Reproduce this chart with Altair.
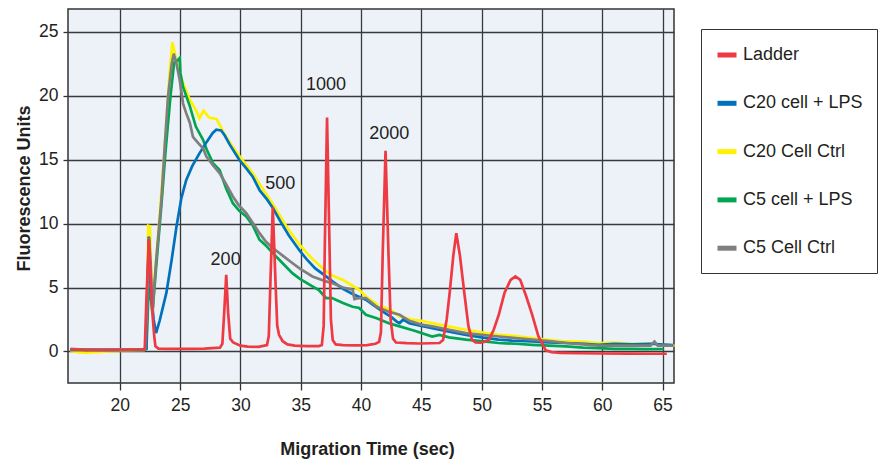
import altair as alt
import pandas as pd

series_names = ["Ladder", "C20 cell + LPS", "C20 Cell Ctrl", "C5 cell + LPS", "C5 Cell Ctrl"]
series_colors = ["#EE3A43", "#0072BC", "#FFF200", "#00A651", "#7F7F80"]
draw_order = ["C20 Cell Ctrl", "C5 cell + LPS", "C20 cell + LPS", "C5 Cell Ctrl", "Ladder"]

ladder_x = [15.9, 17.0, 18.0, 19.0, 20.0, 21.0, 22.0, 22.07, 22.2, 22.4, 22.55, 22.7, 22.85, 22.95, 23.2,
            24.0, 25.0, 26.0, 27.0, 28.0, 28.3, 28.5, 28.65, 28.82, 28.98, 29.15, 29.4, 30.0, 30.6, 31.5,
            32.2, 32.35, 32.49, 32.68, 32.9, 33.05, 33.2, 33.5, 33.9, 34.5, 35.5, 36.5, 36.75, 36.9, 37.0,
            37.18, 37.38, 37.5, 37.65, 37.9, 38.5, 39.5, 40.5, 41.2, 41.5, 41.65, 41.8, 42.03, 42.27, 42.45,
            42.65, 42.9, 43.8, 44.8, 45.8, 46.5, 46.8, 47.1, 47.35, 47.65, 47.9, 48.2, 48.56, 48.9, 49.2,
            49.5, 49.9, 50.2, 50.6, 51.0, 51.43, 51.9, 52.4, 52.8, 53.2, 53.7, 54.18, 54.7, 55.3, 55.8,
            56.5, 58.0, 60.0, 62.0, 64.0, 65.35]
ladder_y = [0.15, 0.12, 0.12, 0.12, 0.13, 0.14, 0.15, 0.3, 4.0, 8.8, 6.0, 3.0, 1.2, 0.4, 0.22,
            0.2, 0.2, 0.2, 0.22, 0.28, 0.3, 0.6, 3.0, 6.0, 3.0, 1.0, 0.7, 0.45, 0.38, 0.36,
            0.5, 1.2, 5.6, 11.3, 5.6, 2.0, 1.3, 0.8, 0.55, 0.45, 0.42, 0.42, 0.5, 2.0, 8.5,
            18.3, 8.5, 2.5, 0.9, 0.55, 0.5, 0.48, 0.5, 0.6, 0.75, 1.5, 7.8, 15.7, 7.8, 2.5,
            1.0, 0.7, 0.65, 0.62, 0.64, 0.66, 0.9, 2.5, 4.6, 7.5, 9.26, 7.5, 4.6, 2.0, 0.9,
            0.7, 0.68, 0.75, 0.9, 1.7, 2.9, 4.6, 5.6, 5.87, 5.6, 4.3, 2.9, 1.2, 0.1, -0.05,
            -0.12, -0.14, -0.16, -0.17, -0.18, -0.18]

c20_lps_x = [15.9, 18.0, 20.0, 22.0, 22.2, 22.3, 22.4, 22.55, 22.8, 23.0, 23.3, 23.86, 24.3, 24.7, 25.1,
             25.5, 26.0, 26.6, 27.2, 27.7, 28.0, 28.4, 28.7, 29.1, 29.9, 30.5, 31.0, 31.6, 32.2, 32.7,
             33.3, 34.0, 34.9, 35.5, 36.2, 37.1, 37.6, 38.5, 39.3, 40.0, 40.4, 41.2, 42.0, 42.5, 43.0,
             43.2, 43.5, 44.0, 45.0, 45.9, 47.0, 48.7, 50.0, 51.4, 52.5, 54.2, 55.5, 57.0, 58.5, 59.7,
             61.0, 62.5, 64.0, 65.9]
c20_lps_y = [0.15, 0.12, 0.12, 0.13, 0.2, 5.0, 9.0, 5.0, 2.5, 1.44, 2.4, 4.6, 7.2, 9.8, 12.0,
             13.4, 14.5, 15.5, 16.4, 17.1, 17.35, 17.3, 16.9, 16.2, 15.0, 14.3, 13.7, 12.6, 11.9, 11.2,
             10.2, 9.1, 7.9, 7.2, 6.5, 5.87, 5.5, 4.9, 4.5, 4.2, 4.05, 3.5, 3.0, 2.7, 2.3,
             2.22, 2.5, 2.2, 2.0, 1.83, 1.6, 1.3, 1.1, 0.92, 0.85, 0.78, 0.7, 0.66, 0.6, 0.52,
             0.6, 0.55, 0.6, 0.5]

c20_ctrl_x = [15.9, 16.5, 17.2, 18.0, 19.0, 20.0, 21.0, 22.0, 22.2, 22.3, 22.35, 22.5, 22.6, 22.7, 23.0,
              23.45, 23.8, 24.1, 24.36, 24.68, 25.24, 25.8, 26.3, 26.6, 26.95, 27.4, 28.0, 28.3, 28.8, 29.9,
              31.0, 31.8, 32.7, 33.8, 34.9, 35.9, 37.1, 37.6, 38.5, 39.2, 39.85, 40.4, 41.3, 41.55, 41.8,
              42.5, 43.2, 44.2, 45.0, 45.9, 47.0, 48.7, 50.0, 51.4, 52.8, 54.2, 55.5, 57.0, 58.5, 59.7,
              61.0, 62.5, 64.0, 66.0]
c20_ctrl_y = [0.05, -0.05, -0.1, -0.05, 0.0, 0.05, 0.08, 0.1, 0.2, 6.0, 9.84, 9.8, 6.0, 3.5, 7.0,
              12.5, 17.0, 21.5, 24.2, 22.8, 21.0, 19.7, 18.9, 18.26, 18.85, 18.3, 18.2, 17.7, 16.8, 15.3,
              13.96, 12.8, 11.5, 9.8, 8.35, 7.3, 6.26, 5.95, 5.6, 5.2, 4.83, 4.3, 3.7, 3.25, 3.5,
              3.2, 2.74, 2.5, 2.4, 2.22, 2.0, 1.7, 1.5, 1.3, 1.2, 1.05, 0.9, 0.78, 0.75, 0.66,
              0.7, 0.6, 0.62, 0.45]

c5_lps_x = [15.9, 18.0, 20.0, 22.0, 22.2, 22.35, 22.5, 22.7, 23.0, 23.45, 23.8, 24.2, 24.5, 24.8, 24.96,
            25.02, 25.24, 25.8, 26.3, 26.9, 27.2, 27.72, 28.27, 28.8, 29.37, 29.9, 30.48, 31.0, 31.58, 32.1,
            32.68, 33.5, 34.3, 34.9, 35.97, 36.5, 37.1, 37.6, 38.5, 39.3, 39.85, 40.4, 41.3, 42.3, 43.2,
            44.5, 45.9, 46.5, 47.3, 48.7, 50.0, 51.4, 52.8, 54.2, 55.6, 57.0, 58.4, 59.7, 61.0, 62.5,
            63.5, 65.1]
c5_lps_y = [0.1, 0.1, 0.1, 0.12, 0.2, 4.0, 5.0, 3.0, 6.5, 11.5, 15.8, 20.0, 22.6, 22.8, 22.96,
            21.8, 20.7, 19.2, 17.6, 16.56, 15.8, 14.74, 14.2, 12.8, 11.6, 11.0, 10.56, 9.9, 8.74, 8.3,
            7.7, 6.9, 6.13, 5.7, 5.09, 4.8, 4.18, 4.18, 3.79, 3.5, 3.4, 2.87, 2.6, 2.2, 1.96,
            1.6, 1.17, 1.3, 1.1, 0.92, 0.8, 0.66, 0.6, 0.52, 0.45, 0.39, 0.3, 0.26, 0.2, 0.2,
            0.18, 0.19]

c5_ctrl_x = [15.9, 17.0, 19.0, 21.0, 22.1, 22.25, 22.42, 22.55, 22.7, 23.0, 23.45, 23.7, 24.0, 24.3, 24.47,
             24.7, 24.96, 25.24, 25.5, 25.8, 26.06, 26.5, 26.9, 27.17, 27.7, 28.27, 28.8, 29.37, 29.9, 30.48,
             31.0, 31.58, 32.1, 32.68, 33.5, 34.3, 34.9, 35.97, 37.1, 37.6, 38.5, 39.3, 39.45, 39.85, 40.4,
             41.3, 42.3, 43.2, 44.0, 45.0, 45.9, 47.3, 48.7, 50.0, 51.4, 52.8, 54.2, 55.6, 57.0, 58.4,
             59.7, 61.0, 62.5, 64.0, 64.33, 64.6, 65.9]
c5_ctrl_y = [0.2, 0.15, 0.13, 0.14, 0.15, 3.0, 8.9, 7.0, 3.0, 7.0, 11.9, 15.8, 20.0, 22.5, 23.3,
             22.5, 21.26, 19.4, 18.65, 17.9, 16.8, 16.3, 15.9, 15.26, 14.6, 13.96, 13.1, 12.13, 11.4, 10.83,
             10.1, 9.26, 8.6, 8.09, 7.5, 6.92, 6.5, 5.87, 5.48, 5.35, 5.0, 4.83, 4.1, 4.18, 4.18,
             3.5, 3.1, 2.87, 2.4, 2.1, 1.96, 1.7, 1.44, 1.3, 1.17, 1.05, 0.92, 0.8, 0.66, 0.55,
             0.45, 0.45, 0.45, 0.45, 0.78, 0.45, 0.45]

peak_labels = ["200", "500", "1000", "2000"]
peak_label_x = [28.77, 33.3, 37.1, 42.33]
peak_label_y = [7.18, 13.08, 20.83, 16.98]

x_ticks = [20, 25, 30, 35, 40, 45, 50, 55, 60, 65]
y_ticks = [0, 5, 10, 15, 20, 25]

series_data = {
    "Ladder": (ladder_x, ladder_y),
    "C20 cell + LPS": (c20_lps_x, c20_lps_y),
    "C20 Cell Ctrl": (c20_ctrl_x, c20_ctrl_y),
    "C5 cell + LPS": (c5_lps_x, c5_lps_y),
    "C5 Cell Ctrl": (c5_ctrl_x, c5_ctrl_y),
}
frames = []
for name, (xs, ys) in series_data.items():
    assert len(xs) == len(ys), name
    frames.append(pd.DataFrame({"time": xs, "fu": ys, "series": name}))
df = pd.concat(frames, ignore_index=True)
labels_df = pd.DataFrame({"time": peak_label_x, "fu": peak_label_y, "label": peak_labels})

FONT = "Liberation Sans"

x_enc = alt.X("time:Q", scale=alt.Scale(domain=[15.7, 65.95], nice=False, zero=False),
              axis=alt.Axis(values=x_ticks, title="Migration Time (sec)", titleX=299,
                            tickSize=7, labelPadding=6, titlePadding=27))
y_enc = alt.Y("fu:Q", scale=alt.Scale(domain=[-2.47, 26.8], nice=False, zero=False),
              axis=alt.Axis(values=y_ticks, title="Fluorescence Units", titleY=179,
                            tickSize=5, labelPadding=5, titlePadding=5))
color_enc = alt.Color("series:N",
                      scale=alt.Scale(domain=series_names, range=series_colors),
                      legend=alt.Legend(title=None, orient="none", legendX=633, legendY=20,
                                        direction="vertical",
                                        fillColor="white", strokeColor="#333333",
                                        padding=14, rowPadding=26.3,
                                        symbolType="stroke", symbolStrokeWidth=5, symbolSize=361,
                                        labelFontSize=18, labelFont=FONT, labelColor="#231F20",
                                        labelOffset=4))

layers = []
for name in draw_order:
    layers.append(
        alt.Chart(df).transform_filter(alt.datum.series == name)
        .mark_line(strokeWidth=2.7)
        .encode(x=x_enc, y=y_enc, color=color_enc)
    )

text_layer = alt.Chart(labels_df).mark_text(fontSize=18, font=FONT, color="#231F20",
                                            align="center", baseline="middle").encode(
    x="time:Q", y="fu:Q", text="label:N")

chart = alt.layer(*layers, text_layer).properties(
    width=606, height=374,
    autosize=alt.AutoSizeParams(type="none"),
    padding={"left": 60, "top": 1, "right": 204, "bottom": 77},
    background="white",
).configure_view(
    fill="#EDF2F9", stroke="#333333", strokeWidth=1.5
).configure_axis(
    grid=True, gridColor="#3A3A3A", gridWidth=1.3, domain=False,
    tickColor="#333333", tickWidth=1.3,
    labelFont=FONT, labelFontSize=17.5, labelColor="#231F20",
    titleFont=FONT, titleFontSize=18, titleFontWeight="bold", titleColor="#231F20"
)

chart.save("out.html", embed_options={"renderer": "svg", "actions": False})
